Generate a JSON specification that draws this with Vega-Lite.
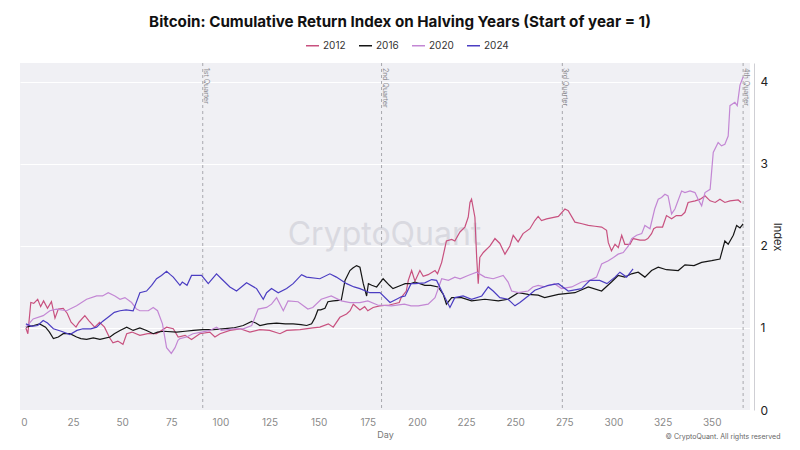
{
  "$schema": "https://vega.github.io/schema/vega-lite/v6.json",
  "width": 730,
  "height": 347,
  "autosize": "none",
  "padding": {"left": 20, "top": 63, "right": 50, "bottom": 40},
  "background": "white",
  "title": {
    "text": "Bitcoin: Cumulative Return Index on Halving Years (Start of year = 1)",
    "font": "Inter", "fontSize": 15.2, "fontWeight": "bold", "color": "#111111",
    "anchor": "middle", "dx": 15, "offset": 8
  },
  "config": {
    "view": {"fill": "#f0f0f4", "stroke": null},
    "font": "Inter"
  },
  "layer": [
    {
      "data": {"values": [{"label": "CryptoQuant"}]},
      "mark": {"type": "text", "fontSize": 32, "color": "#d9d9e0", "font": "Inter", "align": "center", "baseline": "middle"},
      "encoding": {
        "x": {"datum": 183.5, "type": "quantitative"},
        "y": {"datum": 2.13, "type": "quantitative"},
        "text": {"field": "label"}
      }
    },
    {
      "data": {"values": [
        {"day": 91, "label": "1st Quarter"},
        {"day": 182, "label": "2nd Quarter"},
        {"day": 274, "label": "3rd Quarter"},
        {"day": 366, "label": "4th Quarter"}
      ]},
      "layer": [
        {
          "mark": {"type": "rule", "strokeDash": [3, 3], "color": "#a8a8ae", "strokeWidth": 1},
          "encoding": {"x": {"field": "day", "type": "quantitative"}}
        },
        {
          "mark": {"type": "text", "angle": 90, "align": "left", "baseline": "bottom", "fontSize": 7, "color": "#8a8a90"},
          "encoding": {
            "x": {"field": "day", "type": "quantitative"},
            "y": {"datum": 4.17, "type": "quantitative"},
            "text": {"field": "label"}
          }
        }
      ]
    },
    {
      "data": {"values": [
        {"year":"2012","day":1,"index":1.0},{"year":"2012","day":2,"index":0.93},{"year":"2012","day":3.5,"index":1.31},{"year":"2012","day":5,"index":1.30},{"year":"2012","day":7,"index":1.35},{"year":"2012","day":8.5,"index":1.26},{"year":"2012","day":10,"index":1.33},{"year":"2012","day":12,"index":1.24},{"year":"2012","day":14,"index":1.32},{"year":"2012","day":15.8,"index":1.12},{"year":"2012","day":17.5,"index":1.23},{"year":"2012","day":20,"index":1.24},{"year":"2012","day":22,"index":1.18},{"year":"2012","day":24,"index":1.07},{"year":"2012","day":26.5,"index":1.01},{"year":"2012","day":28,"index":1.07},{"year":"2012","day":31,"index":1.15},{"year":"2012","day":33,"index":1.09},{"year":"2012","day":36,"index":1.01},{"year":"2012","day":38.5,"index":1.07},{"year":"2012","day":41,"index":1.01},{"year":"2012","day":43.6,"index":0.88},{"year":"2012","day":45.3,"index":0.82},{"year":"2012","day":47.8,"index":0.84},{"year":"2012","day":50.4,"index":0.80},{"year":"2012","day":52.3,"index":0.93},{"year":"2012","day":55,"index":0.95},{"year":"2012","day":59,"index":0.91},{"year":"2012","day":63,"index":0.93},{"year":"2012","day":67.5,"index":0.93},{"year":"2012","day":72.6,"index":1.01},{"year":"2012","day":76,"index":0.99},{"year":"2012","day":78.5,"index":0.89},{"year":"2012","day":82,"index":0.91},{"year":"2012","day":85.3,"index":0.86},{"year":"2012","day":89.5,"index":0.93},{"year":"2012","day":94.6,"index":0.95},{"year":"2012","day":97.2,"index":0.89},{"year":"2012","day":99.8,"index":0.93},{"year":"2012","day":104.8,"index":0.97},{"year":"2012","day":110,"index":0.99},{"year":"2012","day":115,"index":0.95},{"year":"2012","day":120,"index":0.98},{"year":"2012","day":125,"index":0.97},{"year":"2012","day":130.3,"index":0.93},{"year":"2012","day":133.7,"index":0.97},{"year":"2012","day":140.5,"index":0.98},{"year":"2012","day":147,"index":1.0},{"year":"2012","day":150.6,"index":1.01},{"year":"2012","day":154.9,"index":1.05},{"year":"2012","day":157.4,"index":1.01},{"year":"2012","day":160.8,"index":1.13},{"year":"2012","day":164.2,"index":1.17},{"year":"2012","day":166,"index":1.21},{"year":"2012","day":167.6,"index":1.29},{"year":"2012","day":171,"index":1.22},{"year":"2012","day":173.4,"index":1.26},{"year":"2012","day":175,"index":1.21},{"year":"2012","day":177.7,"index":1.25},{"year":"2012","day":181,"index":1.27},{"year":"2012","day":186,"index":1.28},{"year":"2012","day":191,"index":1.31},{"year":"2012","day":192,"index":1.37},{"year":"2012","day":194.6,"index":1.45},{"year":"2012","day":195.6,"index":1.58},{"year":"2012","day":197.3,"index":1.70},{"year":"2012","day":199,"index":1.57},{"year":"2012","day":201.5,"index":1.70},{"year":"2012","day":203.2,"index":1.63},{"year":"2012","day":205.7,"index":1.65},{"year":"2012","day":209.2,"index":1.70},{"year":"2012","day":210.5,"index":1.66},{"year":"2012","day":212.6,"index":1.80},{"year":"2012","day":215,"index":2.06},{"year":"2012","day":217.7,"index":2.08},{"year":"2012","day":219.3,"index":2.06},{"year":"2012","day":221.9,"index":2.17},{"year":"2012","day":224.4,"index":2.23},{"year":"2012","day":226.1,"index":2.35},{"year":"2012","day":227,"index":2.53},{"year":"2012","day":227.8,"index":2.57},{"year":"2012","day":229.5,"index":2.35},{"year":"2012","day":230.4,"index":1.86},{"year":"2012","day":231.2,"index":1.54},{"year":"2012","day":232,"index":1.86},{"year":"2012","day":233.8,"index":1.92},{"year":"2012","day":237.2,"index":2.0},{"year":"2012","day":239.7,"index":2.09},{"year":"2012","day":242.2,"index":2.03},{"year":"2012","day":244.8,"index":1.90},{"year":"2012","day":247.3,"index":2.0},{"year":"2012","day":249,"index":2.13},{"year":"2012","day":251.5,"index":2.05},{"year":"2012","day":254,"index":2.15},{"year":"2012","day":257.5,"index":2.21},{"year":"2012","day":260,"index":2.31},{"year":"2012","day":261.7,"index":2.36},{"year":"2012","day":263.4,"index":2.31},{"year":"2012","day":266,"index":2.33},{"year":"2012","day":272,"index":2.36},{"year":"2012","day":275.3,"index":2.45},{"year":"2012","day":277,"index":2.43},{"year":"2012","day":280.4,"index":2.29},{"year":"2012","day":284,"index":2.27},{"year":"2012","day":287.2,"index":2.25},{"year":"2012","day":290.6,"index":2.24},{"year":"2012","day":294,"index":2.23},{"year":"2012","day":296.5,"index":2.19},{"year":"2012","day":297.4,"index":2.04},{"year":"2012","day":299,"index":1.94},{"year":"2012","day":300.8,"index":2.02},{"year":"2012","day":302.5,"index":1.98},{"year":"2012","day":304.2,"index":2.13},{"year":"2012","day":305.8,"index":2.02},{"year":"2012","day":308.4,"index":2.02},{"year":"2012","day":310,"index":2.09},{"year":"2012","day":313.5,"index":2.07},{"year":"2012","day":316,"index":2.07},{"year":"2012","day":317.5,"index":2.09},{"year":"2012","day":319.4,"index":2.15},{"year":"2012","day":320.5,"index":2.21},{"year":"2012","day":322,"index":2.23},{"year":"2012","day":325,"index":2.23},{"year":"2012","day":327,"index":2.37},{"year":"2012","day":329.6,"index":2.33},{"year":"2012","day":332,"index":2.37},{"year":"2012","day":334.6,"index":2.37},{"year":"2012","day":336.4,"index":2.41},{"year":"2012","day":338,"index":2.53},{"year":"2012","day":341.6,"index":2.55},{"year":"2012","day":344.2,"index":2.57},{"year":"2012","day":346.6,"index":2.61},{"year":"2012","day":349.2,"index":2.55},{"year":"2012","day":351.8,"index":2.53},{"year":"2012","day":354.2,"index":2.57},{"year":"2012","day":356.7,"index":2.53},{"year":"2012","day":359.3,"index":2.55},{"year":"2012","day":363.5,"index":2.56},{"year":"2012","day":365,"index":2.53},
        {"year":"2016","day":1,"index":1.01},{"year":"2016","day":5,"index":1.03},{"year":"2016","day":8,"index":1.05},{"year":"2016","day":11,"index":1.01},{"year":"2016","day":13,"index":0.95},{"year":"2016","day":15,"index":0.87},{"year":"2016","day":17.5,"index":0.89},{"year":"2016","day":20,"index":0.93},{"year":"2016","day":23.4,"index":0.93},{"year":"2016","day":26.8,"index":0.89},{"year":"2016","day":29,"index":0.87},{"year":"2016","day":31.9,"index":0.86},{"year":"2016","day":35.3,"index":0.88},{"year":"2016","day":38.7,"index":0.86},{"year":"2016","day":43.8,"index":0.89},{"year":"2016","day":46,"index":0.93},{"year":"2016","day":48.9,"index":0.97},{"year":"2016","day":52.3,"index":1.01},{"year":"2016","day":55.6,"index":0.97},{"year":"2016","day":59,"index":1.0},{"year":"2016","day":62.4,"index":0.97},{"year":"2016","day":65.8,"index":0.93},{"year":"2016","day":68,"index":0.95},{"year":"2016","day":71,"index":0.96},{"year":"2016","day":77.7,"index":0.95},{"year":"2016","day":82,"index":0.96},{"year":"2016","day":86.2,"index":0.97},{"year":"2016","day":91,"index":0.98},{"year":"2016","day":96.3,"index":0.98},{"year":"2016","day":101,"index":0.99},{"year":"2016","day":106.5,"index":1.0},{"year":"2016","day":111.6,"index":1.03},{"year":"2016","day":115.9,"index":1.08},{"year":"2016","day":118,"index":1.06},{"year":"2016","day":120.1,"index":1.03},{"year":"2016","day":124,"index":1.05},{"year":"2016","day":128.6,"index":1.06},{"year":"2016","day":133,"index":1.05},{"year":"2016","day":137,"index":1.05},{"year":"2016","day":141,"index":1.04},{"year":"2016","day":143.9,"index":1.03},{"year":"2016","day":146.4,"index":1.05},{"year":"2016","day":148,"index":1.12},{"year":"2016","day":149.6,"index":1.22},{"year":"2016","day":151,"index":1.22},{"year":"2016","day":153.2,"index":1.24},{"year":"2016","day":154.7,"index":1.32},{"year":"2016","day":157.4,"index":1.33},{"year":"2016","day":161.5,"index":1.34},{"year":"2016","day":163.4,"index":1.58},{"year":"2016","day":165.9,"index":1.70},{"year":"2016","day":167.4,"index":1.73},{"year":"2016","day":169.3,"index":1.76},{"year":"2016","day":171,"index":1.74},{"year":"2016","day":172.7,"index":1.54},{"year":"2016","day":174.4,"index":1.39},{"year":"2016","day":175.3,"index":1.54},{"year":"2016","day":177,"index":1.52},{"year":"2016","day":179.5,"index":1.50},{"year":"2016","day":182.8,"index":1.60},{"year":"2016","day":186,"index":1.52},{"year":"2016","day":187.8,"index":1.48},{"year":"2016","day":192,"index":1.52},{"year":"2016","day":194,"index":1.54},{"year":"2016","day":197,"index":1.54},{"year":"2016","day":199,"index":1.56},{"year":"2016","day":204,"index":1.52},{"year":"2016","day":207,"index":1.52},{"year":"2016","day":210.8,"index":1.50},{"year":"2016","day":213.4,"index":1.41},{"year":"2016","day":215,"index":1.29},{"year":"2016","day":217.7,"index":1.37},{"year":"2016","day":222.7,"index":1.37},{"year":"2016","day":227.8,"index":1.33},{"year":"2016","day":234.6,"index":1.35},{"year":"2016","day":241.4,"index":1.33},{"year":"2016","day":246.4,"index":1.35},{"year":"2016","day":251.6,"index":1.43},{"year":"2016","day":256.6,"index":1.41},{"year":"2016","day":261.7,"index":1.40},{"year":"2016","day":265,"index":1.37},{"year":"2016","day":272,"index":1.41},{"year":"2016","day":280.4,"index":1.43},{"year":"2016","day":287.2,"index":1.50},{"year":"2016","day":294,"index":1.45},{"year":"2016","day":299,"index":1.56},{"year":"2016","day":302.4,"index":1.64},{"year":"2016","day":305.8,"index":1.62},{"year":"2016","day":309.2,"index":1.66},{"year":"2016","day":312.6,"index":1.68},{"year":"2016","day":316,"index":1.62},{"year":"2016","day":319.4,"index":1.70},{"year":"2016","day":322.8,"index":1.74},{"year":"2016","day":327,"index":1.71},{"year":"2016","day":333,"index":1.70},{"year":"2016","day":336.4,"index":1.77},{"year":"2016","day":341,"index":1.76},{"year":"2016","day":344.9,"index":1.80},{"year":"2016","day":350,"index":1.82},{"year":"2016","day":354.2,"index":1.84},{"year":"2016","day":356.7,"index":2.06},{"year":"2016","day":358.4,"index":2.02},{"year":"2016","day":361,"index":2.13},{"year":"2016","day":362.7,"index":2.25},{"year":"2016","day":364.4,"index":2.22},{"year":"2016","day":366,"index":2.27},
        {"year":"2020","day":1,"index":1.01},{"year":"2020","day":4.7,"index":1.11},{"year":"2020","day":9.8,"index":1.15},{"year":"2020","day":13.2,"index":1.21},{"year":"2020","day":16.6,"index":1.23},{"year":"2020","day":21.7,"index":1.21},{"year":"2020","day":26.8,"index":1.27},{"year":"2020","day":31.9,"index":1.35},{"year":"2020","day":37,"index":1.39},{"year":"2020","day":40,"index":1.39},{"year":"2020","day":42.9,"index":1.43},{"year":"2020","day":46.3,"index":1.39},{"year":"2020","day":48.9,"index":1.35},{"year":"2020","day":51.4,"index":1.37},{"year":"2020","day":54.8,"index":1.31},{"year":"2020","day":57.3,"index":1.23},{"year":"2020","day":59,"index":1.21},{"year":"2020","day":63.3,"index":1.21},{"year":"2020","day":65.8,"index":1.25},{"year":"2020","day":68,"index":1.21},{"year":"2020","day":70.5,"index":1.05},{"year":"2020","day":72.6,"index":0.76},{"year":"2020","day":75,"index":0.69},{"year":"2020","day":76.9,"index":0.76},{"year":"2020","day":78.4,"index":0.85},{"year":"2020","day":79.4,"index":0.87},{"year":"2020","day":82.8,"index":0.89},{"year":"2020","day":86,"index":0.93},{"year":"2020","day":90.4,"index":0.95},{"year":"2020","day":94.6,"index":0.97},{"year":"2020","day":98,"index":1.01},{"year":"2020","day":100.5,"index":0.97},{"year":"2020","day":106.5,"index":0.99},{"year":"2020","day":111.6,"index":0.99},{"year":"2020","day":115.9,"index":1.03},{"year":"2020","day":119.2,"index":1.23},{"year":"2020","day":123.5,"index":1.25},{"year":"2020","day":126,"index":1.29},{"year":"2020","day":128.6,"index":1.37},{"year":"2020","day":132,"index":1.21},{"year":"2020","day":134.4,"index":1.33},{"year":"2020","day":139.5,"index":1.32},{"year":"2020","day":144.5,"index":1.23},{"year":"2020","day":147,"index":1.25},{"year":"2020","day":151.3,"index":1.35},{"year":"2020","day":156.4,"index":1.39},{"year":"2020","day":161.5,"index":1.33},{"year":"2020","day":166,"index":1.31},{"year":"2020","day":171,"index":1.31},{"year":"2020","day":175,"index":1.33},{"year":"2020","day":180,"index":1.28},{"year":"2020","day":187,"index":1.27},{"year":"2020","day":193.6,"index":1.29},{"year":"2020","day":197,"index":1.27},{"year":"2020","day":200.7,"index":1.27},{"year":"2020","day":205.7,"index":1.29},{"year":"2020","day":209.2,"index":1.37},{"year":"2020","day":212.6,"index":1.60},{"year":"2020","day":216,"index":1.58},{"year":"2020","day":219.3,"index":1.62},{"year":"2020","day":222,"index":1.60},{"year":"2020","day":226,"index":1.64},{"year":"2020","day":230.4,"index":1.68},{"year":"2020","day":234.6,"index":1.62},{"year":"2020","day":238.8,"index":1.60},{"year":"2020","day":243.9,"index":1.64},{"year":"2020","day":246.4,"index":1.56},{"year":"2020","day":248.2,"index":1.45},{"year":"2020","day":251.6,"index":1.43},{"year":"2020","day":256.6,"index":1.45},{"year":"2020","day":259,"index":1.50},{"year":"2020","day":261.7,"index":1.52},{"year":"2020","day":265,"index":1.50},{"year":"2020","day":270,"index":1.54},{"year":"2020","day":273.6,"index":1.48},{"year":"2020","day":278.8,"index":1.50},{"year":"2020","day":283.8,"index":1.56},{"year":"2020","day":288,"index":1.58},{"year":"2020","day":291.4,"index":1.62},{"year":"2020","day":294,"index":1.78},{"year":"2020","day":297.4,"index":1.82},{"year":"2020","day":300,"index":1.86},{"year":"2020","day":302.4,"index":1.90},{"year":"2020","day":305,"index":1.92},{"year":"2020","day":307.6,"index":2.0},{"year":"2020","day":309.3,"index":2.09},{"year":"2020","day":311.8,"index":2.13},{"year":"2020","day":314.4,"index":2.15},{"year":"2020","day":316,"index":2.25},{"year":"2020","day":318.6,"index":2.21},{"year":"2020","day":321,"index":2.45},{"year":"2020","day":322.8,"index":2.57},{"year":"2020","day":324.5,"index":2.59},{"year":"2020","day":326.2,"index":2.63},{"year":"2020","day":327.8,"index":2.61},{"year":"2020","day":329.6,"index":2.39},{"year":"2020","day":331.3,"index":2.45},{"year":"2020","day":334.7,"index":2.67},{"year":"2020","day":336.4,"index":2.65},{"year":"2020","day":339,"index":2.67},{"year":"2020","day":341.5,"index":2.65},{"year":"2020","day":343.1,"index":2.57},{"year":"2020","day":344.9,"index":2.49},{"year":"2020","day":346.6,"index":2.65},{"year":"2020","day":349.2,"index":2.69},{"year":"2020","day":350.8,"index":3.14},{"year":"2020","day":353.3,"index":3.26},{"year":"2020","day":355,"index":3.22},{"year":"2020","day":356.7,"index":3.24},{"year":"2020","day":358.4,"index":3.34},{"year":"2020","day":359.3,"index":3.71},{"year":"2020","day":361.8,"index":3.75},{"year":"2020","day":363,"index":3.71},{"year":"2020","day":364.4,"index":3.96},{"year":"2020","day":366,"index":4.06},
        {"year":"2024","day":1,"index":1.05},{"year":"2024","day":4,"index":1.02},{"year":"2024","day":7,"index":1.03},{"year":"2024","day":9.8,"index":1.09},{"year":"2024","day":12,"index":1.06},{"year":"2024","day":15,"index":0.99},{"year":"2024","day":19,"index":0.96},{"year":"2024","day":23.4,"index":0.92},{"year":"2024","day":27,"index":0.97},{"year":"2024","day":30,"index":0.99},{"year":"2024","day":34,"index":0.99},{"year":"2024","day":37,"index":1.01},{"year":"2024","day":40,"index":1.08},{"year":"2024","day":43.8,"index":1.15},{"year":"2024","day":46,"index":1.19},{"year":"2024","day":48.9,"index":1.21},{"year":"2024","day":52,"index":1.22},{"year":"2024","day":55.6,"index":1.21},{"year":"2024","day":57,"index":1.30},{"year":"2024","day":59,"index":1.43},{"year":"2024","day":62.4,"index":1.45},{"year":"2024","day":65,"index":1.52},{"year":"2024","day":67.5,"index":1.60},{"year":"2024","day":70,"index":1.64},{"year":"2024","day":72.6,"index":1.69},{"year":"2024","day":74.5,"index":1.65},{"year":"2024","day":76,"index":1.62},{"year":"2024","day":79.4,"index":1.52},{"year":"2024","day":80.6,"index":1.56},{"year":"2024","day":83,"index":1.52},{"year":"2024","day":85.3,"index":1.64},{"year":"2024","day":90.4,"index":1.64},{"year":"2024","day":93.8,"index":1.54},{"year":"2024","day":98,"index":1.66},{"year":"2024","day":100.5,"index":1.60},{"year":"2024","day":104.8,"index":1.50},{"year":"2024","day":108.2,"index":1.45},{"year":"2024","day":113.3,"index":1.55},{"year":"2024","day":118.4,"index":1.48},{"year":"2024","day":121.8,"index":1.35},{"year":"2024","day":123.5,"index":1.43},{"year":"2024","day":126,"index":1.48},{"year":"2024","day":129.4,"index":1.43},{"year":"2024","day":133.7,"index":1.48},{"year":"2024","day":137,"index":1.54},{"year":"2024","day":141.3,"index":1.65},{"year":"2024","day":143.8,"index":1.62},{"year":"2024","day":150.6,"index":1.60},{"year":"2024","day":155.7,"index":1.66},{"year":"2024","day":159,"index":1.62},{"year":"2024","day":164.2,"index":1.54},{"year":"2024","day":168,"index":1.50},{"year":"2024","day":171,"index":1.48},{"year":"2024","day":176,"index":1.43},{"year":"2024","day":181.2,"index":1.43},{"year":"2024","day":186.3,"index":1.31},{"year":"2024","day":189.6,"index":1.35},{"year":"2024","day":192,"index":1.38},{"year":"2024","day":194,"index":1.39},{"year":"2024","day":197,"index":1.54},{"year":"2024","day":199,"index":1.54},{"year":"2024","day":204,"index":1.55},{"year":"2024","day":207.5,"index":1.59},{"year":"2024","day":210,"index":1.58},{"year":"2024","day":212.6,"index":1.45},{"year":"2024","day":216.8,"index":1.25},{"year":"2024","day":219.3,"index":1.37},{"year":"2024","day":223.5,"index":1.39},{"year":"2024","day":227.8,"index":1.35},{"year":"2024","day":233,"index":1.39},{"year":"2024","day":236.3,"index":1.50},{"year":"2024","day":238.8,"index":1.45},{"year":"2024","day":242.2,"index":1.37},{"year":"2024","day":246.4,"index":1.35},{"year":"2024","day":249.9,"index":1.27},{"year":"2024","day":252.4,"index":1.31},{"year":"2024","day":256.6,"index":1.39},{"year":"2024","day":260,"index":1.46},{"year":"2024","day":266.8,"index":1.52},{"year":"2024","day":272,"index":1.54},{"year":"2024","day":277,"index":1.45},{"year":"2024","day":283.8,"index":1.48},{"year":"2024","day":288,"index":1.58},{"year":"2024","day":293,"index":1.58},{"year":"2024","day":296.7,"index":1.54},{"year":"2024","day":300.8,"index":1.62},{"year":"2024","day":303.3,"index":1.68},{"year":"2024","day":306.7,"index":1.62},{"year":"2024","day":310,"index":1.72}
      ]},
      "mark": {"type": "line", "strokeWidth": 1.2, "interpolate": "linear"},
      "encoding": {
        "x": {
          "field": "day", "type": "quantitative",
          "scale": {"domain": [-2, 369.5], "nice": false, "zero": false},
          "axis": {
            "title": "Day", "values": [0, 25, 50, 75, 100, 125, 150, 175, 200, 225, 250, 275, 300, 325, 350],
            "grid": false, "ticks": false, "domain": false,
            "labelColor": "#8a8a8a", "labelFontSize": 10, "labelPadding": 7,
            "titleColor": "#777777", "titleFontSize": 9, "titleFontWeight": "normal", "titlePadding": 3
          }
        },
        "y": {
          "field": "index", "type": "quantitative",
          "scale": {"domain": [0, 4.23], "nice": false},
          "axis": {
            "title": "Index", "orient": "right", "values": [0, 1, 2, 3, 4], "format": "d",
            "grid": true, "gridColor": "#ffffff", "gridWidth": 1,
            "ticks": false, "domain": true, "domainColor": "#cfcfd4", "offset": 4,
            "labelColor": "#222222", "labelFontSize": 12, "labelPadding": 6,
            "titleColor": "#222222", "titleFontSize": 11, "titleFontWeight": "normal", "titlePadding": 4
          }
        },
        "color": {
          "field": "year", "type": "nominal",
          "scale": {"domain": ["2012", "2016", "2020", "2024"], "range": ["#c8517f", "#151515", "#c387d4", "#4b3dc2"]},
          "legend": {
            "title": null, "orient": "none", "direction": "horizontal", "legendX": 285, "legendY": -25,
            "symbolType": "stroke", "symbolStrokeWidth": 1.5, "symbolSize": 170,
            "labelFontSize": 10, "labelColor": "#333333", "labelOffset": 3, "columnPadding": 9
          }
        }
      }
    },
    {
      "data": {"values": [{"label": "© CryptoQuant. All rights reserved"}]},
      "mark": {"type": "text", "fontSize": 7, "color": "#666666", "align": "right", "baseline": "middle"},
      "encoding": {
        "x": {"datum": 385, "type": "quantitative"},
        "y": {"datum": -0.33, "type": "quantitative"},
        "text": {"field": "label"}
      }
    }
  ]
}
